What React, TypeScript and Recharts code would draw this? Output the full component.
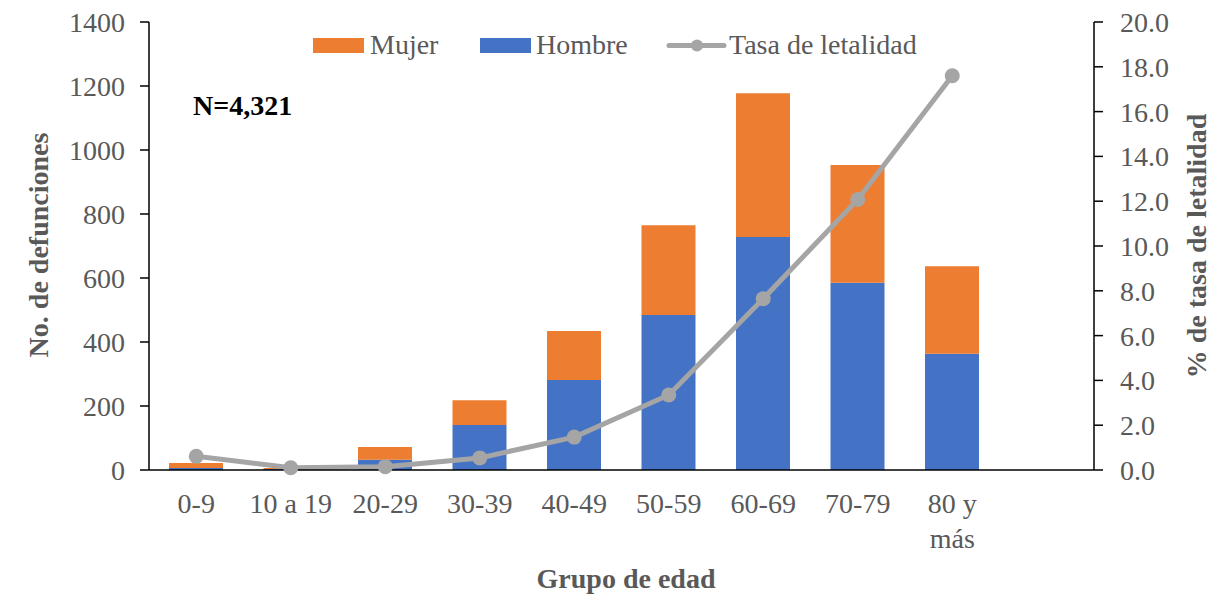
import React from "react";
import { ComposedChart, Bar, Line, XAxis, YAxis } from "recharts";

const categories = ["0-9", "10 a 19", "20-29", "30-39", "40-49", "50-59", "60-69", "70-79", "80 y más", ""];
const hombre = [6, 3, 32, 141, 281, 484, 728, 585, 363, null];
const mujer = [16, 3, 40, 77, 153, 281, 449, 368, 274, null];
const tasa = [0.61, 0.1, 0.15, 0.54, 1.47, 3.35, 7.65, 12.08, 17.6, null];
const leftTicks = [0, 200, 400, 600, 800, 1000, 1200, 1400];
const rightTicks = [0, 2, 4, 6, 8, 10, 12, 14, 16, 18, 20];

const data = categories.map((c, i) => ({
  cat: c,
  hombre: hombre[i],
  mujer: mujer[i],
  tasa: tasa[i],
}));

const FONT = "'Liberation Serif', 'Times New Roman', serif";
const GRAY_TEXT = "#595959";
const ORANGE = "#ED7D31";
const BLUE = "#4472C4";
const LINE_GRAY = "#A5A5A5";

const XTick = (props: any) => {
  const { x, y, payload } = props;
  const label: string = payload.value;
  if (!label) return null;
  const lines = label === "80 y más" ? ["80 y", "más"] : [label];
  return (
    <text x={x} y={y} textAnchor="middle" fill={GRAY_TEXT} fontSize={28} fontFamily={FONT}>
      {lines.map((l, i) => (
        <tspan key={i} x={x} y={y + 43 + i * 35}>
          {l}
        </tspan>
      ))}
    </text>
  );
};

export default function App() {
  return (
    <div style={{ position: "absolute", left: 0, top: 0, width: 1216, height: 598, background: "#fff" }}>
      <ComposedChart
        width={1216}
        height={598}
        data={data}
        margin={{ top: 22, right: 0, bottom: 0, left: 0 }}
        barCategoryGap="21%"
      >
        <XAxis
          dataKey="cat"
          height={128}
          tickLine={false}
          tickSize={0}
          tickMargin={0}
          tick={<XTick />}
          interval={0}
          axisLine={{ stroke: "#000", strokeWidth: 1.5 }}
        />
        <YAxis
          yAxisId="left"
          width={149}
          domain={[0, 1400]}
          ticks={leftTicks}
          interval={0}
          tickSize={9}
          tickMargin={15}
          axisLine={{ stroke: "#000", strokeWidth: 1.5 }}
          tickLine={{ stroke: "#000", strokeWidth: 1.5 }}
          tick={{ fill: GRAY_TEXT, fontSize: 28, fontFamily: FONT }}
        />
        <YAxis
          yAxisId="right"
          orientation="right"
          width={122}
          domain={[0, 20]}
          ticks={rightTicks}
          interval={0}
          tickSize={9}
          tickMargin={17}
          tickFormatter={(v: number) => v.toFixed(1)}
          axisLine={{ stroke: "#000", strokeWidth: 1.5 }}
          tickLine={{ stroke: "#000", strokeWidth: 1.5 }}
          tick={{ fill: GRAY_TEXT, fontSize: 28, fontFamily: FONT, textAnchor: "start" }}
        />
        <Bar yAxisId="left" dataKey="hombre" name="Hombre" stackId="a" fill={BLUE} barSize={54} isAnimationActive={false} />
        <Bar yAxisId="left" dataKey="mujer" name="Mujer" stackId="a" fill={ORANGE} barSize={54} isAnimationActive={false} />
        <Line
          yAxisId="right"
          dataKey="tasa"
          name="Tasa de letalidad"
          stroke={LINE_GRAY}
          strokeWidth={5}
          dot={{ r: 7.5, fill: LINE_GRAY, stroke: LINE_GRAY, strokeWidth: 0 }}
          activeDot={false}
          isAnimationActive={false}
        />
      </ComposedChart>
      <svg
        width={1216}
        height={598}
        style={{ position: "absolute", left: 0, top: 0, pointerEvents: "none" }}
      >
        {/* Legend */}
        <rect x={313} y={38} width={51} height={15} fill={ORANGE} />
        <text x={370} y={54} fontSize={28} fontFamily={FONT} fill={GRAY_TEXT}>Mujer</text>
        <rect x={480} y={38} width={51} height={15} fill={BLUE} />
        <text x={536} y={54} fontSize={28} fontFamily={FONT} fill={GRAY_TEXT}>Hombre</text>
        <line x1={669} y1={45.5} x2={724} y2={45.5} stroke={LINE_GRAY} strokeWidth={5} strokeLinecap="round" />
        <circle cx={697} cy={45.5} r={6} fill={LINE_GRAY} />
        <text x={729} y={54} fontSize={28} fontFamily={FONT} fill={GRAY_TEXT}>Tasa de letalidad</text>
        {/* Annotation */}
        <text x={193} y={115} fontSize={28} fontWeight="bold" fontFamily={FONT} fill="#000">N=4,321</text>
        {/* Axis titles */}
        <text
          x={0}
          y={0}
          transform="translate(48,245) rotate(-90)"
          textAnchor="middle"
          fontSize={28}
          fontWeight="bold"
          fontFamily={FONT}
          fill={GRAY_TEXT}
        >
          No. de defunciones
        </text>
        <text
          x={0}
          y={0}
          transform="translate(1206,246) rotate(-90)"
          textAnchor="middle"
          fontSize={28}
          fontWeight="bold"
          fontFamily={FONT}
          fill={GRAY_TEXT}
        >
          % de tasa de letalidad
        </text>
        <text x={626} y={588} textAnchor="middle" fontSize={28} fontWeight="bold" fontFamily={FONT} fill={GRAY_TEXT}>
          Grupo de edad
        </text>
      </svg>
    </div>
  );
}
